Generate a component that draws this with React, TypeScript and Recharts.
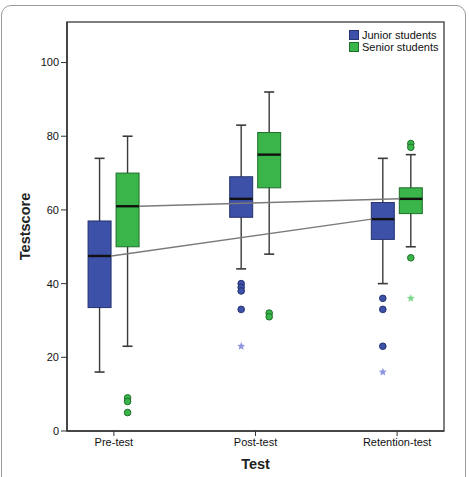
import React from "react";
import {
  ComposedChart,
  Bar,
  XAxis,
  YAxis,
  ReferenceArea,
  ReferenceLine,
} from "recharts";

const TESTS = ["Pre-test", "Post-test", "Retention-test"];
const TEST_POS = [1, 2, 3];

// five-number summaries per test: [min whisker, q1, median, q3, max whisker]
const JUNIOR_STATS = [
  [16, 33.5, 47.5, 57, 74],
  [44, 58, 63, 69, 83],
  [40, 52, 57.5, 62, 74],
];
const SENIOR_STATS = [
  [23, 50, 61, 70, 80],
  [48, 66, 75, 81, 92],
  [50, 59, 63, 66, 75],
];

// outliers (circles) and extremes (stars)
const JUNIOR_OUTLIERS = [[], [40, 39, 38, 33], [36, 33, 23]];
const JUNIOR_EXTREMES = [[], [23], [16]];
const SENIOR_OUTLIERS = [[9, 8, 5], [32, 31], [78, 77, 47]];
const SENIOR_EXTREMES = [[], [], [36]];

const Y_TICKS = [0, 20, 40, 60, 80, 100];
const Y_MAX = 111;

const FONT = "'Liberation Sans', Arial, sans-serif";
const BLUE = "#3d51a9";
const GREEN = "#39b54a";

// offsets in x-axis units for the group position / half box width
const GROUP_OFFSET = 0.0986;
const BOX_HALF = 0.081;

const rows = TEST_POS.map((x, i) => ({
  x,
  junior: [JUNIOR_STATS[i][0], JUNIOR_STATS[i][4]],
  senior: [SENIOR_STATS[i][0], SENIOR_STATS[i][4]],
}));

function starPoints(cx: number, cy: number, r: number) {
  const pts: string[] = [];
  for (let k = 0; k < 10; k++) {
    const rad = k % 2 === 0 ? r : r * 0.45;
    const a = -Math.PI / 2 + (k * Math.PI) / 5;
    pts.push(`${cx + rad * Math.cos(a)},${cy + rad * Math.sin(a)}`);
  }
  return pts.join(" ");
}

function makeBoxShape(
  stats: number[][],
  outliers: number[][],
  extremes: number[][],
  fill: string,
  edge: string,
  starFill: string
) {
  return (props: any) => {
    const { x, y, width, height, index } = props;
    const s = stats[index];
    const top = Math.min(y, y + height);
    const h = Math.abs(height);
    const lo = s[0];
    const hi = s[4];
    const toPx = (v: number) => top + ((hi - v) * h) / (hi - lo);
    const cx = x + width / 2;
    const cap = 5;
    return (
      <g>
        <line x1={cx} x2={cx} y1={toPx(hi)} y2={toPx(lo)} stroke="#3a3a3a" strokeWidth={1.4} />
        <line x1={cx - cap} x2={cx + cap} y1={toPx(hi)} y2={toPx(hi)} stroke="#3a3a3a" strokeWidth={1.6} />
        <line x1={cx - cap} x2={cx + cap} y1={toPx(lo)} y2={toPx(lo)} stroke="#3a3a3a" strokeWidth={1.6} />
        <rect
          x={x}
          y={toPx(s[3])}
          width={width}
          height={toPx(s[1]) - toPx(s[3])}
          fill={fill}
          stroke={edge}
          strokeWidth={1}
        />
        <line x1={x} x2={x + width} y1={toPx(s[2])} y2={toPx(s[2])} stroke="#111" strokeWidth={2.4} />
        {outliers[index].map((v, k) => (
          <circle key={`o${k}`} cx={cx} cy={toPx(v)} r={3.3} fill={fill} stroke={edge} strokeWidth={1} />
        ))}
        {extremes[index].map((v, k) => (
          <polygon key={`e${k}`} points={starPoints(cx, toPx(v), 4.2)} fill={starFill} />
        ))}
      </g>
    );
  };
}

const JuniorBox = makeBoxShape(JUNIOR_STATS, JUNIOR_OUTLIERS, JUNIOR_EXTREMES, BLUE, "#26336e", "#8d96de");
const SeniorBox = makeBoxShape(SENIOR_STATS, SENIOR_OUTLIERS, SENIOR_EXTREMES, GREEN, "#1f6e2a", "#7fd98c");

const LEGEND_ITEMS = [
  { label: "Junior students", color: BLUE, edge: "#26336e" },
  { label: "Senior students", color: GREEN, edge: "#1f6e2a" },
];

const LegendBox = () => (
  <div
    style={{
      position: "absolute",
      left: 349,
      top: 29,
      fontFamily: FONT,
      fontSize: 11,
      color: "#111",
      lineHeight: "12px",
    }}
  >
    {LEGEND_ITEMS.map((it) => (
      <div key={it.label} style={{ display: "flex", alignItems: "center" }}>
        <span
          style={{
            display: "inline-block",
            width: 8,
            height: 8,
            background: it.color,
            border: `1px solid ${it.edge}`,
            marginRight: 3,
          }}
        />
        {it.label}
      </div>
    ))}
  </div>
);

export default function App() {
  const last = TEST_POS.length - 1;
  return (
    <div
      style={{
        position: "absolute",
        left: 0,
        top: 0,
        width: 469,
        height: 477,
        background: "#fff",
        overflow: "hidden",
      }}
    >
      <div
        style={{
          position: "absolute",
          left: 1,
          top: 5,
          width: 463,
          height: 500,
          border: "1.5px solid #9a9a9a",
          borderRadius: 10,
        }}
      />
      <ComposedChart
        width={469}
        height={477}
        data={rows}
        margin={{ top: 22, right: 25, bottom: 16, left: 10 }}
        barGap={5}
        style={{ position: "absolute", left: 0, top: 0 }}
      >
        <ReferenceArea
          x1={0.669}
          x2={3.331}
          y1={0}
          y2={Y_MAX}
          fill="none"
          stroke="#555"
          strokeWidth={1.5}
        />
        <XAxis
          dataKey="x"
          type="number"
          domain={[0.669, 3.331]}
          ticks={TEST_POS}
          tickFormatter={(v: number) => TESTS[v - 1]}
          allowDataOverflow
          height={30}
          tickSize={5}
          tick={{ fill: "#111", fontSize: 11, fontFamily: FONT }}
          axisLine={{ stroke: "#333", strokeWidth: 1.5 }}
          tickLine={{ stroke: "#333" }}
          label={{
            value: "Test",
            position: "bottom",
            offset: -2,
            style: { fontFamily: FONT, fontSize: 14.5, fontWeight: 700, fill: "#222" },
          }}
        />
        <YAxis
          type="number"
          domain={[0, Y_MAX]}
          ticks={Y_TICKS}
          allowDataOverflow
          width={57}
          tickSize={6}
          tick={{ fill: "#111", fontSize: 11, fontFamily: FONT }}
          axisLine={{ stroke: "#333", strokeWidth: 1.5 }}
          tickLine={{ stroke: "#333" }}
          label={{
            value: "Testscore",
            angle: -90,
            position: "insideLeft",
            offset: 15,
            style: {
              textAnchor: "middle",
              fontFamily: FONT,
              fontSize: 14.5,
              fontWeight: 700,
              fill: "#222",
            },
          }}
        />
        <Bar dataKey="junior" name="Junior students" barSize={23} fill={BLUE} shape={JuniorBox} isAnimationActive={false} />
        <Bar dataKey="senior" name="Senior students" barSize={23} fill={GREEN} shape={SeniorBox} isAnimationActive={false} />
        <ReferenceLine
          segment={[
            { x: TEST_POS[0] - GROUP_OFFSET + BOX_HALF, y: JUNIOR_STATS[0][2] },
            { x: TEST_POS[last] - GROUP_OFFSET - BOX_HALF, y: JUNIOR_STATS[last][2] },
          ]}
          stroke="#7a7a7a"
          strokeWidth={1.5}
        />
        <ReferenceLine
          segment={[
            { x: TEST_POS[0] + GROUP_OFFSET + BOX_HALF, y: SENIOR_STATS[0][2] },
            { x: TEST_POS[last] + GROUP_OFFSET - BOX_HALF, y: SENIOR_STATS[last][2] },
          ]}
          stroke="#7a7a7a"
          strokeWidth={1.5}
        />
      </ComposedChart>
      <LegendBox />
    </div>
  );
}
